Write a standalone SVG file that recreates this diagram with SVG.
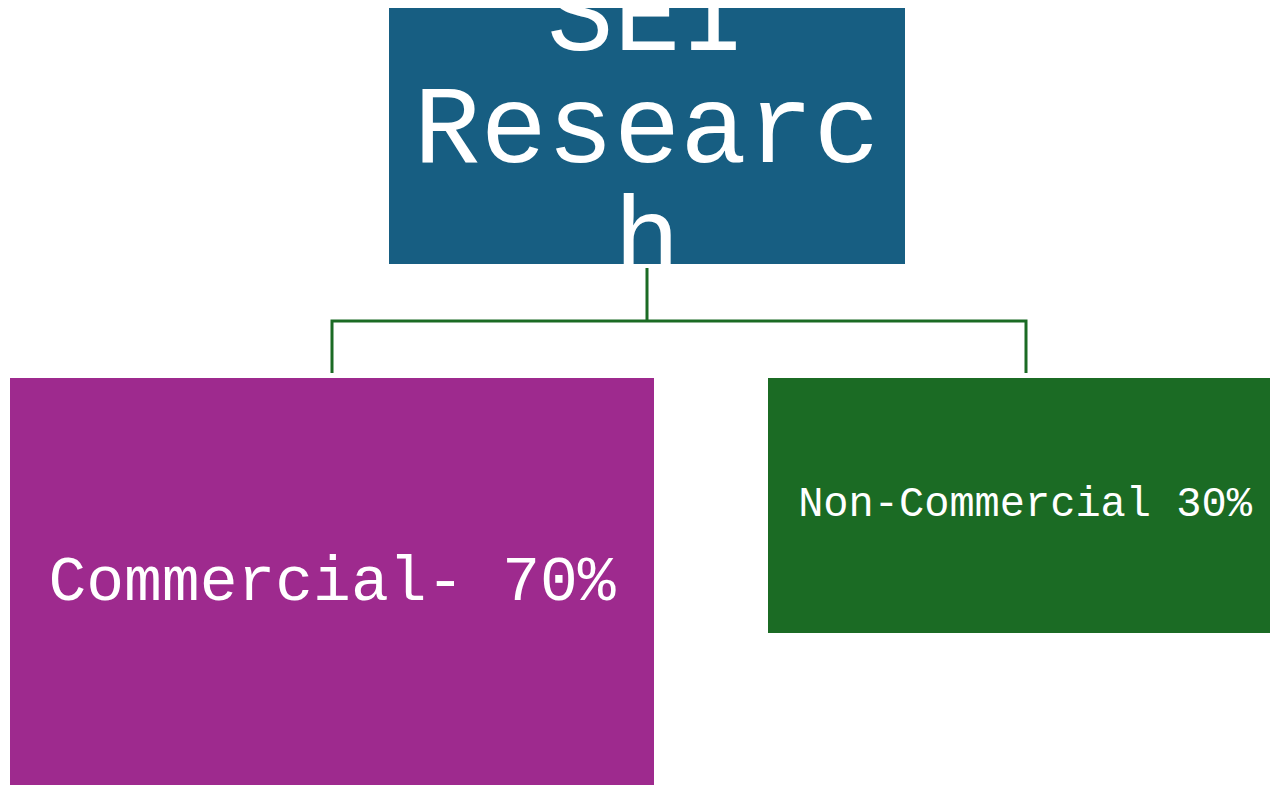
<svg xmlns="http://www.w3.org/2000/svg" width="1270" height="785" viewBox="0 0 1270 785">
<style>
.lbl{font-family:"Liberation Mono","Courier New",monospace;fill:#ffffff;text-anchor:middle}
.conn{fill:none;stroke:#1b6b24;stroke-width:3}
</style>
<rect width="1270" height="785" fill="#ffffff"/>
<g id="connectors">
<path class="conn" d="M647 268 V321 M332 373 V321 H1026 V373"/>
</g>
<g id="node-sei">
<rect x="389" y="8" width="516" height="256" fill="#175e82"/>
<text class="lbl" font-size="111"><tspan x="647" y="50">SEI</tspan><tspan x="647" y="162">Researc</tspan><tspan x="647" y="274">h</tspan></text>
</g>
<g id="node-commercial">
<rect x="10" y="378" width="644" height="407" fill="#9e2a8e"/>
<text class="lbl" x="332" y="600" font-size="63">Commercial- 70%</text>
</g>
<g id="node-noncommercial">
<rect x="768" y="378" width="514" height="255" fill="#1b6b24"/>
<text class="lbl" x="1025" y="516" font-size="42">Non-Commercial 30%</text>
</g>
</svg>
